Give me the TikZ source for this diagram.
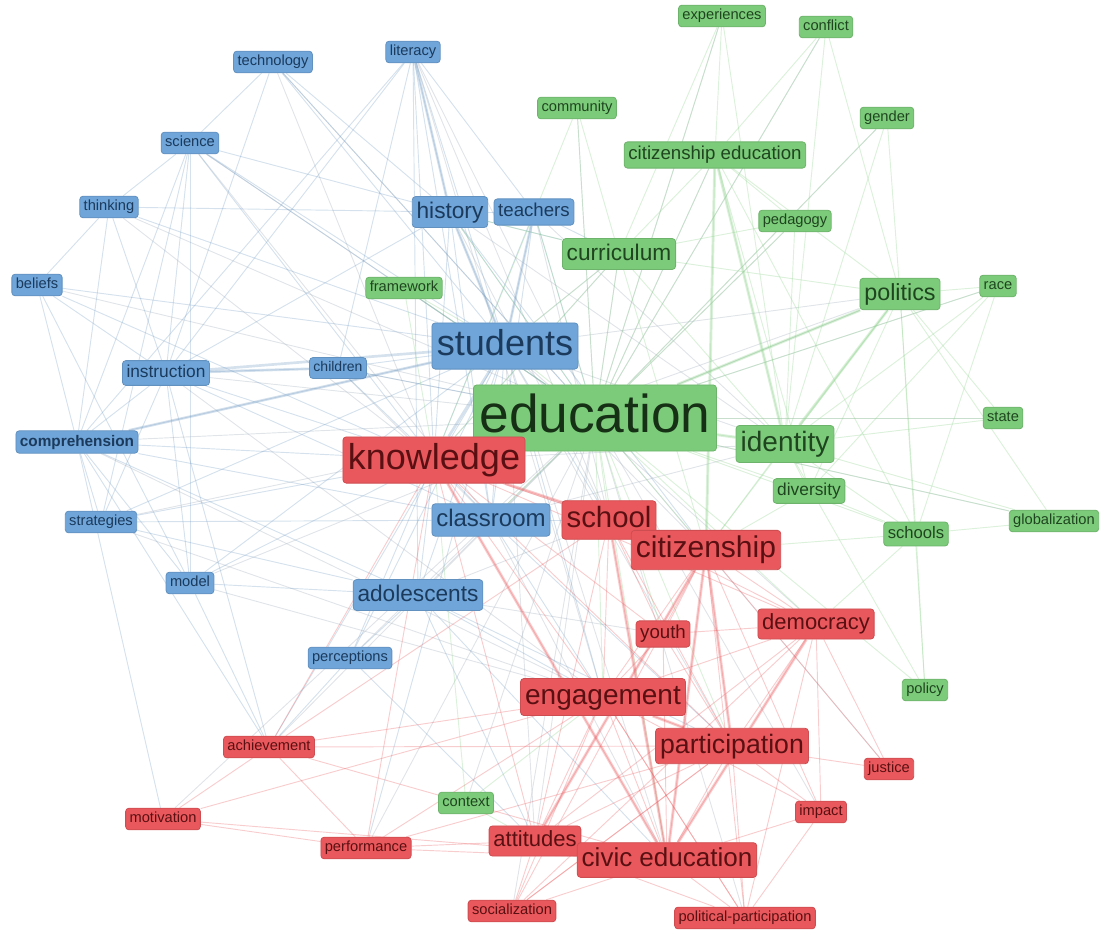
\documentclass[tikz,border=0pt]{standalone}
\usepackage{fontspec}
\setmainfont{Liberation Sans}
\usepackage{tikz}
\usetikzlibrary{backgrounds}

\definecolor{kwblue}{HTML}{6FA5D9}
\definecolor{kwgreen}{HTML}{7CCB7A}
\definecolor{kwred}{HTML}{E9585C}
\definecolor{kwbluetext}{HTML}{1B3A5C}
\definecolor{kwgreentext}{HTML}{1F451F}
\definecolor{kwredtext}{HTML}{5A1012}
\definecolor{kwgrey}{HTML}{A8B4C0}

\tikzset{
  kw/.style = {draw, rounded corners=2.5pt, line width=0.6pt,
               inner xsep=2.4pt+0.05em, inner ysep=1.8pt+0.1em,
               text height=0.74em, text depth=0.21em},
  bkw/.style = {kw, fill=kwblue, draw=kwblue!88!black, text=kwbluetext},
  gkw/.style = {kw, fill=kwgreen, draw=kwgreen!88!black, text=kwgreentext},
  rkw/.style = {kw, fill=kwred, draw=kwred!88!black, text=kwredtext},
  fs/.style = {node font=\fontsize{#1}{#1}\selectfont},
  bedge/.style = {draw=kwblue!75!gray, line width=#1, opacity=0.3},
  gedge/.style = {draw=kwgreen!85!white, line width=#1, opacity=0.32},
  redge/.style = {draw=kwred, line width=#1, opacity=0.3},
  kedge/.style = {draw=kwgrey, line width=#1, opacity=0.35},
  bedge/.default = 0.7pt,
  gedge/.default = 0.7pt,
  redge/.default = 0.7pt,
  kedge/.default = 0.7pt
}

\begin{document}
\begin{tikzpicture}[x=0.75pt, y=-0.75pt]
  \useasboundingbox (0,0) rectangle (1103,935);

  % blue cluster
  \node[bkw, fs=11] (tech) at (273,62) {technology};
  \node[bkw, fs=11] (literacy) at (413,52) {literacy};
  \node[bkw, fs=11] (science) at (190,143) {science};
  \node[bkw, fs=11] (thinking) at (109,207) {thinking};
  \node[bkw, fs=11] (beliefs) at (37,285) {beliefs};
  \node[bkw, fs=13] (instruction) at (166,373) {instruction};
  \node[bkw, fs=10.5] (children) at (338,368) {children};
  \node[bkw, fs=11.5, font=\bfseries] (compr) at (77,442) {comprehension};
  \node[bkw, fs=11] (strategies) at (101,522) {strategies};
  \node[bkw, fs=11] (model) at (190,583) {model};
  \node[bkw, fs=11] (perceptions) at (350,658) {perceptions};
  \node[bkw, fs=17] (history) at (450,212) {history};
  \node[bkw, fs=14] (teachers) at (534,212) {teachers};
  \node[bkw, fs=27] (students) at (505,346) {students};
  \node[bkw, fs=18] (classroom) at (491,520) {classroom};
  \node[bkw, fs=17] (adolescents) at (418,595) {adolescents};

  % green cluster
  \node[gkw, fs=11] (experiences) at (722,16) {experiences};
  \node[gkw, fs=11] (conflict) at (826,27) {conflict};
  \node[gkw, fs=11] (community) at (577,108) {community};
  \node[gkw, fs=11] (gender) at (887,118) {gender};
  \node[gkw, fs=14] (citedu) at (715,155) {citizenship education};
  \node[gkw, fs=11] (pedagogy) at (795,221) {pedagogy};
  \node[gkw, fs=17] (curriculum) at (619,254) {curriculum};
  \node[gkw, fs=11] (framework) at (404,288) {framework};
  \node[gkw, fs=17.5] (politics) at (900,294) {politics};
  \node[gkw, fs=11] (race) at (998,286) {race};
  \node[gkw, fs=40, text=kwgreentext!70!black] (education) at (595,418) {education};
  \node[gkw, fs=11] (state) at (1003,418) {state};
  \node[gkw, fs=21] (identity) at (785,444) {identity};
  \node[gkw, fs=13] (diversity) at (809,491) {diversity};
  \node[gkw, fs=12.5] (schools) at (916,534) {schools};
  \node[gkw, fs=11] (global) at (1054,521) {globalization};
  \node[gkw, fs=11] (policy) at (925,690) {policy};
  \node[gkw, fs=11] (context) at (466,803) {context};

  % red cluster
  \node[rkw, fs=27] (knowledge) at (434,460) {knowledge};
  \node[rkw, fs=22] (school) at (609,520) {school};
  \node[rkw, fs=22.5] (citizenship) at (706,550) {citizenship};
  \node[rkw, fs=16.5] (democracy) at (816,624) {democracy};
  \node[rkw, fs=14] (youth) at (663,634) {youth};
  \node[rkw, fs=21] (engagement) at (603,697) {engagement};
  \node[rkw, fs=20] (participation) at (732,746) {participation};
  \node[rkw, fs=11] (achievement) at (269,747) {achievement};
  \node[rkw, fs=11] (justice) at (889,769) {justice};
  \node[rkw, fs=11] (motivation) at (163,819) {motivation};
  \node[rkw, fs=11] (impact) at (821,812) {impact};
  \node[rkw, fs=11] (performance) at (366,848) {performance};
  \node[rkw, fs=16.5] (attitudes) at (535,841) {attitudes};
  \node[rkw, fs=19.5] (civiced) at (667,860) {civic education};
  \node[rkw, fs=11] (socialization) at (512,911) {socialization};
  \node[rkw, fs=11] (polpart) at (745,918) {political-participation};

  \begin{pgfonlayer}{background}
    % faint links through the middle
    \foreach \a in {literacy, tech, science, thinking, instruction, compr,
        strategies, model, adolescents, perceptions, achievement, attitudes,
        socialization, polpart, impact, justice, state, race, gender, conflict,
        experiences, community, framework, pedagogy, curriculum, citedu, politics,
        global, motivation, performance, context, children, beliefs}
      \draw[kedge] (education) -- (\a);
    \foreach \a/\b in {students/citizenship, students/democracy, students/identity,
        students/participation, students/civiced, students/attitudes,
        students/curriculum, students/politics, knowledge/identity,
        knowledge/politics, knowledge/curriculum, history/identity,
        history/school, literacy/school, literacy/engagement, teachers/identity,
        teachers/school, classroom/identity, classroom/civiced,
        adolescents/school, adolescents/youth, instruction/engagement,
        science/classroom, tech/knowledge, thinking/knowledge, children/classroom,
        compr/engagement, strategies/engagement, model/engagement}
      \draw[kedge] (\a) -- (\b);

    % links from blue keywords
    \foreach \a/\b in {literacy/history, literacy/students, literacy/instruction,
        literacy/compr, literacy/teachers, literacy/classroom, literacy/adolescents,
        literacy/children, literacy/knowledge, tech/students, tech/science,
        tech/instruction, tech/history, tech/education, science/instruction,
        science/compr, science/students, science/thinking, science/knowledge,
        science/model, science/strategies, science/history, science/education,
        thinking/history, thinking/students, thinking/compr, thinking/instruction,
        thinking/beliefs, beliefs/students, beliefs/instruction, beliefs/compr,
        beliefs/knowledge, beliefs/model, instruction/children, instruction/compr,
        instruction/strategies, instruction/model, instruction/knowledge,
        instruction/history, instruction/classroom, instruction/achievement,
        children/students, children/education, children/knowledge,
        compr/students, compr/strategies, compr/knowledge, compr/model,
        compr/adolescents, compr/classroom, compr/achievement, compr/motivation,
        strategies/students, strategies/knowledge, strategies/adolescents,
        strategies/classroom, model/students, model/knowledge, model/achievement,
        model/adolescents, history/students, history/teachers, history/education,
        history/knowledge, history/citizenship, history/classroom, history/curriculum,
        teachers/students, teachers/education, teachers/classroom, teachers/knowledge,
        teachers/curriculum, students/classroom, students/school,
        students/adolescents, students/engagement, students/achievement,
        students/perceptions, students/performance, classroom/school,
        classroom/engagement, classroom/participation, classroom/knowledge,
        adolescents/knowledge, adolescents/engagement, adolescents/attitudes,
        adolescents/participation, adolescents/perceptions, adolescents/civiced,
        perceptions/attitudes, perceptions/knowledge, perceptions/achievement}
      \draw[bedge] (\a) -- (\b);
    \foreach \a/\b in {instruction/students, literacy/history, students/knowledge,
        compr/students, instruction/children, history/students, teachers/students}
      \draw[bedge=2pt] (\a) -- (\b);

    % links from green keywords
    \foreach \a/\b in {experiences/education, experiences/identity,
        experiences/curriculum, experiences/citedu, conflict/identity,
        conflict/education, conflict/politics, conflict/citedu, community/education,
        community/curriculum, community/knowledge, gender/identity, gender/politics,
        gender/education, citedu/identity, citedu/education, citedu/curriculum,
        citedu/politics, citedu/diversity, citedu/schools, citedu/pedagogy,
        citedu/citizenship, pedagogy/education, pedagogy/identity,
        pedagogy/curriculum, curriculum/education, curriculum/identity,
        curriculum/politics, curriculum/citizenship, curriculum/knowledge,
        curriculum/history, curriculum/students, framework/education,
        framework/students, framework/knowledge, politics/identity,
        politics/education, politics/race, politics/diversity, politics/schools,
        politics/citizenship, politics/state, politics/global, race/identity,
        race/education, race/diversity, race/schools, education/students,
        education/citizenship, education/school, education/identity,
        education/democracy, education/diversity, education/schools,
        education/teachers, education/history, education/classroom,
        education/engagement, education/participation, education/civiced,
        education/youth, education/policy, state/education, state/identity,
        identity/diversity, identity/schools, identity/citizenship, identity/global,
        diversity/schools, diversity/citizenship, schools/citizenship,
        schools/policy, schools/global, schools/democracy, global/education,
        policy/identity, policy/politics, context/engagement, context/knowledge,
        context/attitudes}
      \draw[gedge] (\a) -- (\b);
    \foreach \a/\b in {citedu/identity, politics/identity, education/identity,
        education/knowledge, citedu/citizenship, politics/education}
      \draw[gedge=2.2pt] (\a) -- (\b);

    % links from red keywords
    \foreach \a/\b in {knowledge/school, knowledge/citizenship,
        knowledge/engagement, knowledge/participation, knowledge/civiced,
        knowledge/attitudes, knowledge/democracy, knowledge/youth,
        knowledge/achievement, knowledge/performance, school/citizenship,
        school/engagement, school/participation, school/civiced, school/attitudes,
        school/youth, school/democracy, citizenship/democracy,
        citizenship/engagement, citizenship/participation, citizenship/civiced,
        citizenship/attitudes, citizenship/youth, citizenship/impact,
        citizenship/polpart, democracy/participation, democracy/engagement,
        democracy/civiced, democracy/impact, democracy/justice, democracy/youth,
        democracy/attitudes, youth/engagement, youth/participation, youth/civiced,
        engagement/participation, engagement/civiced, engagement/attitudes,
        engagement/socialization, engagement/achievement, engagement/impact,
        engagement/polpart, participation/civiced, participation/attitudes,
        participation/impact, participation/justice, participation/socialization,
        participation/polpart, achievement/motivation, achievement/performance,
        achievement/participation, achievement/civiced, achievement/school,
        motivation/performance, motivation/engagement, motivation/civiced,
        performance/engagement, performance/civiced, performance/attitudes,
        performance/participation, attitudes/civiced, attitudes/socialization,
        attitudes/polpart, civiced/socialization, civiced/polpart, civiced/impact,
        impact/polpart, justice/citizenship, socialization/participation,
        socialization/democracy, socialization/citizenship, polpart/engagement,
        polpart/democracy}
      \draw[redge] (\a) -- (\b);
    \foreach \a/\b in {knowledge/civiced, knowledge/citizenship, citizenship/participation,
        school/civiced, engagement/participation, citizenship/civiced,
        democracy/civiced, attitudes/citizenship}
      \draw[redge=2.2pt] (\a) -- (\b);
  \end{pgfonlayer}
\end{tikzpicture}
\end{document}
